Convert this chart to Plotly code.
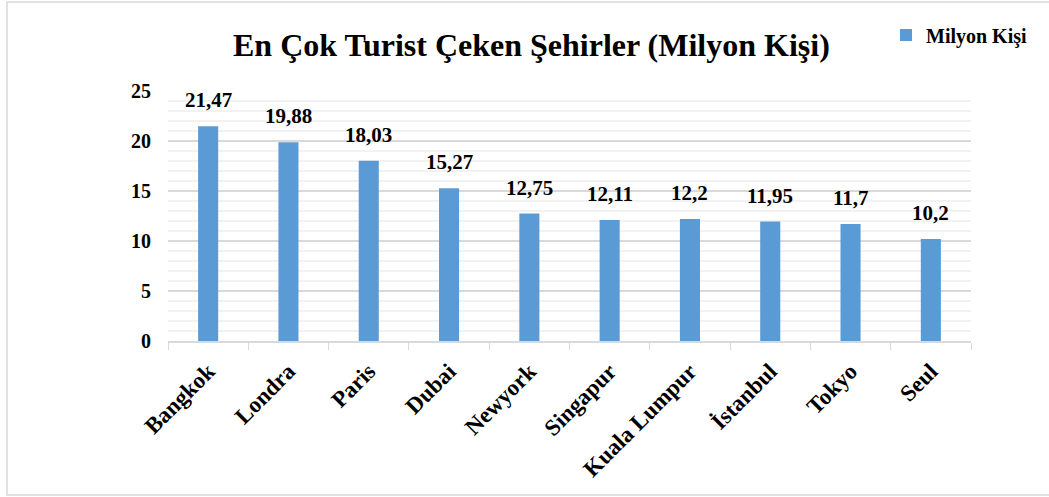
import plotly.graph_objects as go

cities = ["Bangkok", "Londra", "Paris", "Dubai", "Newyork", "Singapur",
          "Kuala Lumpur", "İstanbul", "Tokyo", "Seul"]
values = [21.47, 19.88, 18.03, 15.27, 12.75, 12.11, 12.2, 11.95, 11.7, 10.2]
labels = ["21,47", "19,88", "18,03", "15,27", "12,75", "12,11", "12,2", "11,95", "11,7", "10,2"]
series_name = "Milyon Kişi"
title = "En Çok Turist Çeken Şehirler (Milyon Kişi)"

W, H = 1049, 497
L, R, T, B = 168, W - 971, 91, H - 341
pw, ph = W - L - R, H - T - B

def px(xp):
    return (xp - L) / pw

def py(yp):
    return (H - B - yp) / ph

SERIF = "Liberation Serif, Times New Roman, serif"

fig = go.Figure()
fig.add_trace(go.Bar(
    x=cities, y=values, name="<b>%s</b>" % series_name,
    marker=dict(color="#5b9bd5", line=dict(width=0)),
    showlegend=True,
))

for c, v, t in zip(cities, values, labels):
    fig.add_annotation(x=c, y=v, text="<b>%s</b>" % t, showarrow=False,
                       yanchor="bottom", yshift=12,
                       font=dict(family=SERIF, size=21, color="#000000"))

fig.add_annotation(xref="paper", yref="paper", x=px(531), y=py(45),
                   text="<b>%s</b>" % title, showarrow=False,
                   xanchor="center", yanchor="middle",
                   font=dict(family=SERIF, size=32, color="#000000"))

fig.add_shape(type="rect", xref="paper", yref="paper",
              x0=px(7), x1=px(1060), y0=py(495), y1=py(2),
              line=dict(color="#d9d9d9", width=1.5), fillcolor="rgba(0,0,0,0)",
              layer="below")

fig.update_layout(
    width=W, height=H,
    margin=dict(l=L, r=R, t=T, b=B, autoexpand=False),
    paper_bgcolor="white", plot_bgcolor="white",
    bargap=0.75,
    font=dict(family=SERIF, color="#000000"),
    legend=dict(x=px(886), y=py(35), xanchor="left", yanchor="middle",
                font=dict(family=SERIF, size=20, color="#000000"),
                bgcolor="rgba(0,0,0,0)", itemwidth=30,
                itemsizing="constant"),
    xaxis=dict(
        type="category", tickangle=-45,
        showline=True, linecolor="#d9d9d9", linewidth=1.5,
        ticks="outside", tickson="boundaries", ticklen=7, tickcolor="#d9d9d9",
        tickfont=dict(family=SERIF, size=23, color="#000000"),
        showgrid=False, ticklabelstandoff=6,
        tickprefix="<b>", ticksuffix="</b>",
    ),
    yaxis=dict(
        range=[0, 25], dtick=5, tick0=0,
        showline=False, zeroline=False,
        showgrid=True, gridcolor="#d9d9d9", gridwidth=1.5,
        minor=dict(dtick=1, showgrid=True, gridcolor="#f2f2f2", gridwidth=1.5),
        tickfont=dict(family=SERIF, size=20, color="#000000"),
        ticklabelstandoff=16,
        tickprefix="<b>", ticksuffix="</b>",
    ),
)

fig.write_html("out.html", config={"displayModeBar": False},
               post_script="document.body.style.margin='0';")
